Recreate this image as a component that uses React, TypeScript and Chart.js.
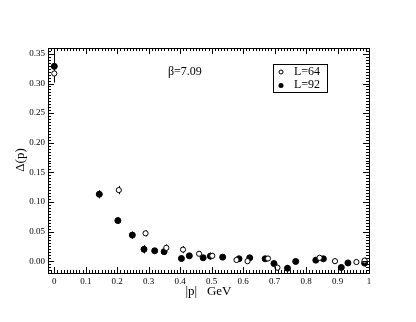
import React, { useEffect, useRef } from "react";
import { Chart, registerables } from "chart.js";

Chart.register(...registerables);

const p64 = [0, 0.205, 0.29, 0.356, 0.409, 0.46, 0.502, 0.579, 0.614, 0.679, 0.709, 0.843, 0.892, 0.96, 0.986];
const d64 = [0.317, 0.12, 0.047, 0.0225, 0.0195, 0.0125, 0.009, 0.002, 0.0, 0.0045, -0.011, 0.0057, 0.0, -0.0015, 0.001];
const e64 = [0.015, 0.007, 0.005, 0.006, 0.006, 0.004, 0.005, 0.004, 0.004, 0.004, 0.005, 0.004, 0.004, 0.004, 0.005];

const p92 = [0, 0.143, 0.202, 0.248, 0.285, 0.319, 0.349, 0.404, 0.429, 0.473, 0.496, 0.535, 0.587, 0.621, 0.67, 0.698, 0.741, 0.767, 0.831, 0.855, 0.912, 0.933, 0.986];
const d92 = [0.329, 0.113, 0.0685, 0.044, 0.02, 0.0175, 0.016, 0.0045, 0.009, 0.0057, 0.0085, 0.0068, 0.004, 0.0057, 0.004, -0.004, -0.012, -0.0005, 0.0017, 0.004, -0.0106, -0.003, -0.0033];
const e92 = [0.027, 0.007, 0.005, 0.006, 0.007, 0.003, 0.004, 0.005, 0.003, 0.003, 0.006, 0.003, 0.003, 0.004, 0.003, 0.004, 0.005, 0.003, 0.003, 0.003, 0.004, 0.003, 0.006];

const xTicks = [0, 0.1, 0.2, 0.3, 0.4, 0.5, 0.6, 0.7, 0.8, 0.9, 1];
const yTicks = [0, 0.05, 0.1, 0.15, 0.2, 0.25, 0.3, 0.35];

const xTitle = "|p|   GeV";
const yTitle = "Δ(p)";
const annotation = "β=7.09";
const labels = ["L=64", "L=92"];

const SERIF = "'Liberation Serif', 'DejaVu Serif', serif";

const decorPlugin = {
  id: "decor",
  beforeDatasetsDraw(chart: any) {
    const ctx = chart.ctx;
    const xs = chart.scales.x;
    const ys = chart.scales.y;
    ctx.save();
    ctx.strokeStyle = "#000";
    ctx.lineWidth = 1;
    chart.data.datasets.forEach((ds: any) => {
      ds.data.forEach((pt: any) => {
        const px = Math.round(xs.getPixelForValue(pt.x)) + 0.5;
        const y1 = ys.getPixelForValue(pt.y - pt.e);
        const y2 = ys.getPixelForValue(pt.y + pt.e);
        ctx.beginPath();
        ctx.moveTo(px, y1);
        ctx.lineTo(px, y2);
        ctx.stroke();
      });
    });
    ctx.restore();
  },
  afterDraw(chart: any) {
    const ctx = chart.ctx;
    const a = chart.chartArea;
    const xs = chart.scales.x;
    const ys = chart.scales.y;
    ctx.save();
    ctx.strokeStyle = "#000";
    ctx.lineWidth = 1;
    ctx.strokeRect(a.left + 0.5, a.top + 0.5, a.right - a.left, a.bottom - a.top);
    // inward ticks x
    ctx.beginPath();
    for (let i = -2; i <= 100; i++) {
      const v = i / 100;
      const px = Math.round(xs.getPixelForValue(v)) + 0.5;
      const len = i % 10 === 0 ? 6 : 3;
      ctx.moveTo(px, a.bottom);
      ctx.lineTo(px, a.bottom - len);
      ctx.moveTo(px, a.top);
      ctx.lineTo(px, a.top + len);
    }
    for (let i = -4; i <= 72; i++) {
      const v = i / 200;
      const py = Math.round(ys.getPixelForValue(v)) + 0.5;
      const len = i % 10 === 0 ? 6 : 3;
      ctx.moveTo(a.left, py);
      ctx.lineTo(a.left + len, py);
      ctx.moveTo(a.right, py);
      ctx.lineTo(a.right - len, py);
    }
    ctx.stroke();

    ctx.fillStyle = "#000";
    // axis titles
    ctx.font = `13px ${SERIF}`;
    ctx.textAlign = "center";
    ctx.textBaseline = "middle";
    ctx.fillText(xTitle, (a.left + a.right) / 2, 292);
    ctx.save();
    ctx.translate(21, 160);
    ctx.rotate(-Math.PI / 2);
    ctx.fillText(yTitle, 0, 0);
    ctx.restore();

    // annotation
    ctx.font = `12px ${SERIF}`;
    ctx.textAlign = "left";
    ctx.fillText(annotation, 168, 72);

    // legend
    ctx.strokeRect(273.5, 64.5, 54, 28);
    ctx.textAlign = "left";
    ctx.fillText(labels[0], 294, 72);
    ctx.fillText(labels[1], 294, 85);
    ctx.beginPath();
    ctx.arc(281, 72, 2, 0, Math.PI * 2);
    ctx.fillStyle = "#fff";
    ctx.fill();
    ctx.stroke();
    ctx.beginPath();
    ctx.arc(281, 85.5, 2.5, 0, Math.PI * 2);
    ctx.fillStyle = "#000";
    ctx.fill();
    ctx.restore();
  },
};

export default function App() {
  const ref = useRef<HTMLCanvasElement>(null);
  useEffect(() => {
    if (!ref.current) return;
    const chart = new Chart(ref.current, {
      type: "scatter",
      data: {
        datasets: [
          {
            label: labels[0],
            data: p64.map((x, i) => ({ x, y: d64[i], e: e64[i] })) as any,
            pointStyle: "circle",
            pointRadius: 2.6,
            backgroundColor: "#fff",
            borderColor: "#000",
            borderWidth: 1,
          },
          {
            label: labels[1],
            data: p92.map((x, i) => ({ x, y: d92[i], e: e92[i] })) as any,
            pointStyle: "circle",
            pointRadius: 3,
            backgroundColor: "#000",
            borderColor: "#000",
            borderWidth: 1,
          },
        ],
      },
      options: {
        animation: false,
        responsive: true,
        maintainAspectRatio: false,
        layout: { padding: { left: 0, top: 48, right: 47, bottom: 0 } },
        plugins: { legend: { display: false }, tooltip: { enabled: false } },
        scales: {
          x: {
            type: "linear",
            min: -0.02,
            max: 1.0,
            grid: { display: false, drawTicks: false },
            border: { display: false },
            afterBuildTicks: (s: any) => {
              s.ticks = xTicks.map((v) => ({ value: v }));
            },
            afterFit: (s: any) => {
              s.height = 49;
            },
            ticks: {
              padding: 3,
              maxRotation: 0,
              autoSkip: false,
              color: "#000",
              font: { family: SERIF, size: 9 },
              callback: (v: any) => {
                const n = Number(v);
                if (Math.abs(n) < 1e-9) return "0";
                if (Math.abs(n - 1) < 1e-9) return "1";
                return n.toFixed(1);
              },
            },
          },
          y: {
            type: "linear",
            min: -0.02,
            max: 0.36,
            grid: { display: false, drawTicks: false },
            border: { display: false },
            afterBuildTicks: (s: any) => {
              s.ticks = yTicks.map((v) => ({ value: v }));
            },
            afterFit: (s: any) => {
              s.width = 48;
            },
            ticks: {
              padding: 3,
              autoSkip: false,
              color: "#000",
              font: { family: SERIF, size: 9 },
              callback: (v: any) => Number(v).toFixed(2),
            },
          },
        },
      },
      plugins: [decorPlugin],
    });
    return () => chart.destroy();
  }, []);
  return (
    <div style={{ position: "fixed", left: 0, top: 0, width: 416, height: 322, background: "#fff" }}>
      <canvas ref={ref} />
    </div>
  );
}
